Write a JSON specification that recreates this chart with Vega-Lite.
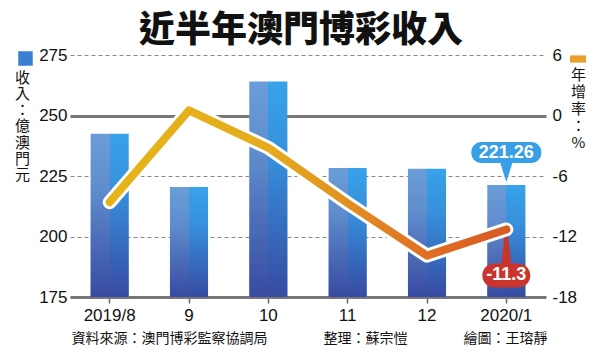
{
  "$schema": "https://vega.github.io/schema/vega-lite/v6.json",
  "width": 476,
  "height": 242,
  "autosize": {"type": "none"},
  "padding": {"left": 70, "top": 55, "right": 54, "bottom": 57},
  "background": "white",
  "config": {"view": {"stroke": null}, "font": "Noto Sans CJK TC"},
  "title": {
    "text": "近半年澳門博彩收入",
    "font": "Noto Sans CJK TC",
    "fontSize": 36,
    "fontWeight": 900,
    "color": "#111111",
    "anchor": "middle",
    "frame": "group",
    "baseline": "alphabetic",
    "offset": 14,
    "dx": -7,
    "dy": 46
  },
  "data": {
    "values": [
      {"month": "2019/8", "revenue": 242.5, "growth": -8.6},
      {"month": "9", "revenue": 220.5, "growth": 0.5},
      {"month": "10", "revenue": 264.0, "growth": -3.2},
      {"month": "11", "revenue": 228.3, "growth": -8.7},
      {"month": "12", "revenue": 228.0, "growth": -13.9},
      {"month": "2020/1", "revenue": 221.26, "growth": -11.3}
    ]
  },
  "encoding": {
    "x": {
      "field": "month",
      "type": "nominal",
      "scale": {"domain": ["2019/8", "9", "10", "11", "12", "2020/1"], "paddingInner": 0.52, "paddingOuter": 0.26},
      "axis": {
        "title": "資料來源：澳門博彩監察協調局　　　　整理：蘇宗愷　　　　繪圖：王瑢靜",
        "titleFont": "Noto Sans CJK TC",
        "titleFontSize": 14,
        "titleFontWeight": "normal",
        "titleColor": "#111111",
        "titlePadding": 8,
        "titleX": 239,
        "labelAngle": 0,
        "labelFont": "Liberation Sans",
        "labelFontSize": 17,
        "labelColor": "#111111",
        "labelPadding": 4,
        "tickSize": 6,
        "tickColor": "#666666",
        "tickWidth": 1.5,
        "domainColor": "#777777",
        "domainWidth": 3,
        "grid": false
      }
    }
  },
  "layer": [
    {
      "encoding": {
        "y": {
          "field": "revenue",
          "type": "quantitative",
          "scale": {"domain": [175, 275], "nice": false, "zero": false},
          "axis": {
            "orient": "left",
            "title": ["收", "入", "：", "億", "澳", "門", "元"],
            "titleAngle": 0,
            "titleFont": "Noto Sans CJK TC",
            "titleFontSize": 15,
            "titleFontWeight": "normal",
            "titleColor": "#111111",
            "titleAlign": "center",
            "titleBaseline": "top",
            "titleLineHeight": 16.3,
            "titleX": -48,
            "titleY": 15,
            "values": [175, 200, 225, 250, 275],
            "labelFont": "Liberation Sans",
            "labelFontSize": 17,
            "labelColor": "#111111",
            "labelPadding": 3,
            "ticks": false,
            "domain": false,
            "grid": true,
            "gridColor": {"condition": {"test": "datum.value == 250", "value": "#777777"}, "value": "#888888"},
            "gridDash": {"condition": {"test": "datum.value == 250", "value": []}, "value": [4, 3]},
            "gridWidth": {"condition": {"test": "datum.value == 250", "value": 3}, "value": 1}
          }
        }
      },
      "layer": [
        {
          "mark": {
            "type": "bar",
            "fill": {
              "gradient": "linear", "x1": 0, "y1": 0, "x2": 1, "y2": 0,
              "stops": [
                {"offset": 0, "color": "#6a9dd8"},
                {"offset": 0.5, "color": "#6a9dd8"},
                {"offset": 0.5, "color": "#38a2ea"},
                {"offset": 1, "color": "#38a2ea"}
              ]
            }
          },
          "encoding": {"y2": {"datum": 175}}
        },
        {
          "mark": {
            "type": "bar",
            "fill": {
              "gradient": "linear", "x1": 0, "y1": 0, "x2": 0, "y2": 1,
              "stops": [
                {"offset": 0, "color": "rgba(50,70,160,0)"},
                {"offset": 0.35, "color": "rgba(50,70,160,0.2)"},
                {"offset": 1, "color": "rgba(55,72,160,0.97)"}
              ]
            }
          },
          "encoding": {"y2": {"datum": 175}}
        },
        {
          "transform": [{"filter": "datum.month == '2020/1'"}],
          "mark": {
            "type": "point",
            "shape": "M-25,-43 H25 A10,10 0 0 1 35,-33 V-32 A10,10 0 0 1 25,-22 H6 L0,-3 L-6,-22 H-25 A10,10 0 0 1 -35,-32 V-33 A10,10 0 0 1 -25,-43 Z",
            "size": 4,
            "filled": true,
            "fill": "#38a0e6",
            "strokeWidth": 0,
            "opacity": 1
          }
        },
        {
          "transform": [{"filter": "datum.month == '2020/1'"}],
          "mark": {
            "type": "text",
            "font": "Liberation Sans",
            "fontSize": 18,
            "fontWeight": "bold",
            "color": "white",
            "baseline": "middle",
            "align": "center",
            "dy": -32
          },
          "encoding": {"text": {"field": "revenue", "type": "quantitative", "format": ".2f"}}
        },
        {
          "mark": {"type": "point", "size": 0, "filled": true, "opacity": 1},
          "encoding": {
            "fill": {
              "datum": "收入",
              "scale": {"range": ["#3a7fd0"]},
              "legend": {
                "title": null,
                "orient": "none",
                "legendX": -52,
                "legendY": -4,
                "padding": 0,
                "symbolType": "square",
                "symbolSize": 210,
                "symbolStrokeWidth": 0,
                "symbolOpacity": 1,
                "labelExpr": "''",
                "labelFontSize": 1
              }
            }
          }
        }
      ]
    },
    {
      "encoding": {
        "y": {
          "field": "growth",
          "type": "quantitative",
          "scale": {"domain": [-18, 6], "nice": false, "zero": false},
          "axis": {
            "orient": "right",
            "title": ["年", "增", "率", "：", "%"],
            "titleAngle": 0,
            "titleFont": "Noto Sans CJK TC",
            "titleFontSize": 15,
            "titleFontWeight": "normal",
            "titleColor": "#111111",
            "titleAlign": "center",
            "titleBaseline": "top",
            "titleLineHeight": 17,
            "titleX": 32,
            "titleY": 12,
            "values": [-18, -12, -6, 0, 6],
            "labelExpr": "'' + datum.value",
            "labelFont": "Liberation Sans",
            "labelFontSize": 17,
            "labelColor": "#111111",
            "labelPadding": 6,
            "ticks": false,
            "domain": false,
            "grid": false
          }
        }
      },
      "layer": [
        {
          "transform": [{"filter": "datum.month == '2020/1'"}],
          "mark": {
            "type": "point",
            "shape": "M-12,34 H12 A12,12 0 0 1 12,58 H-12 A12,12 0 0 1 -12,34 Z M-5,36 L-1.5,3 L1.5,3 L5,36 Z",
            "size": 4,
            "filled": true,
            "fill": "#c9352b",
            "strokeWidth": 0,
            "opacity": 1
          }
        },
        {
          "transform": [{"filter": "datum.month == '2020/1'"}],
          "mark": {
            "type": "text",
            "font": "Liberation Sans",
            "fontSize": 18,
            "fontWeight": "bold",
            "color": "white",
            "baseline": "middle",
            "align": "center",
            "dy": 46
          },
          "encoding": {"text": {"field": "growth", "type": "nominal"}}
        },
        {
          "mark": {"type": "line", "color": "white", "strokeWidth": 14, "strokeCap": "round", "strokeJoin": "round"}
        },
        {
          "mark": {
            "type": "line",
            "strokeWidth": 8,
            "strokeCap": "round",
            "strokeJoin": "round",
            "stroke": {
              "gradient": "linear", "x1": 0, "y1": 0, "x2": 1, "y2": 0,
              "stops": [
                {"offset": 0, "color": "#e6b41a"},
                {"offset": 0.4, "color": "#e4ac1c"},
                {"offset": 0.62, "color": "#e08c22"},
                {"offset": 0.82, "color": "#df6c22"},
                {"offset": 1, "color": "#da5a24"}
              ]
            }
          }
        },
        {
          "mark": {"type": "point", "size": 0, "filled": true, "opacity": 1},
          "encoding": {
            "fill": {
              "datum": "年增率",
              "scale": {"range": ["#e8a02a"]},
              "legend": {
                "title": null,
                "orient": "none",
                "legendX": 500,
                "legendY": -4,
                "padding": 0,
                "symbolType": "M-1,-0.45H1V0.45H-1Z",
                "symbolSize": 256,
                "symbolStrokeWidth": 0,
                "symbolOpacity": 1,
                "labelExpr": "''",
                "labelFontSize": 1
              }
            }
          }
        }
      ]
    }
  ],
  "resolve": {
    "scale": {"y": "independent", "fill": "independent"},
    "legend": {"fill": "independent"}
  }
}
